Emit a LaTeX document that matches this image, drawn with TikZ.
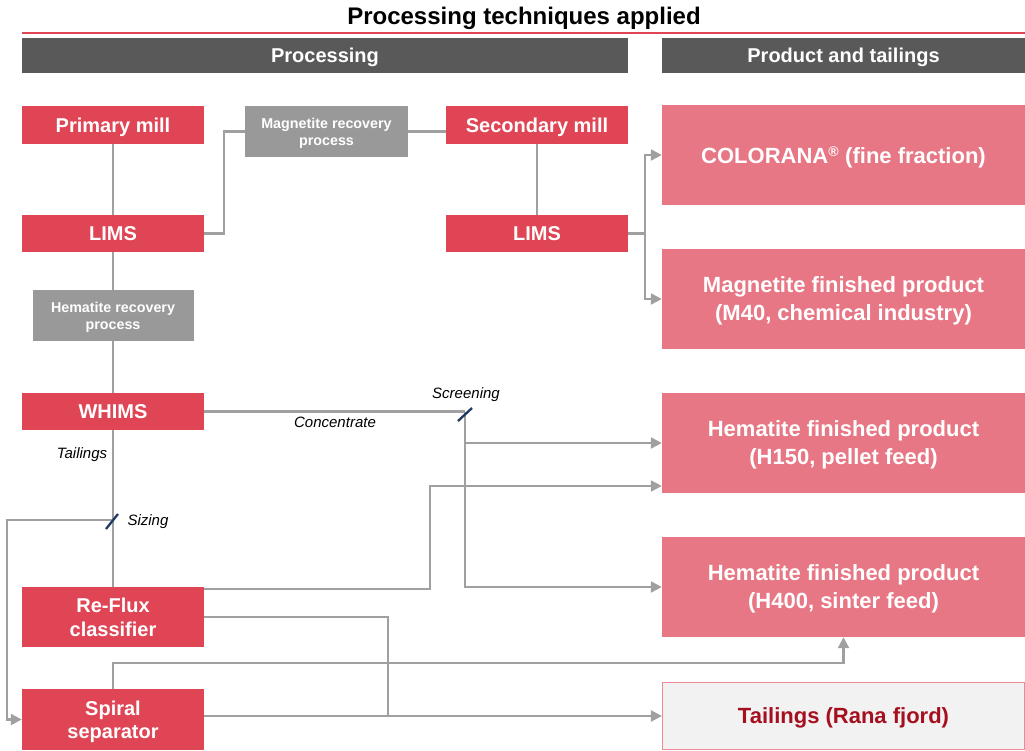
\documentclass[tikz,border=0pt]{standalone}
\usepackage{fontspec}
\setmainfont{Liberation Sans}
\usetikzlibrary{arrows.meta,calc}
\definecolor{cRed}{HTML}{E04555}
\definecolor{cPink}{HTML}{E87785}
\definecolor{cGray}{HTML}{999999}
\definecolor{cBar}{HTML}{595959}
\definecolor{cLine}{HTML}{A0A0A0}
\definecolor{cNavy}{HTML}{1F3864}
\definecolor{cTailTxt}{HTML}{A50F1F}
\definecolor{cTailFill}{HTML}{F2F2F2}
\definecolor{cTailBorder}{HTML}{EE8893}
\tikzset{
  boxbase/.style={inner sep=0pt, align=center, text=white, text depth=0pt},
  redbox/.style={boxbase, fill=cRed, minimum width=182pt, font=\bfseries\fontsize{20}{23.5}\selectfont},
  graybox/.style={boxbase, fill=cGray, font=\bfseries\fontsize{14.3}{16.8}\selectfont},
  pinkbox/.style={boxbase, fill=cPink, minimum width=363pt, minimum height=100pt, font=\bfseries\fontsize{22}{28}\selectfont},
  barbox/.style={boxbase, fill=cBar, minimum height=34.5pt, font=\bfseries\fontsize{20}{24}\selectfont},
  conn/.style={draw=cLine, line width=2.3pt},
  arr/.style={conn, -{Triangle[length=11pt,width=11pt]}},
  slashmark/.style={draw=cNavy, line width=2.3pt},
  lbl/.style={inner sep=0pt, text depth=0pt, font=\itshape\fontsize{15}{18}\selectfont, text=black}
}
\begin{document}
\begin{tikzpicture}[x=1pt,y=-1pt]
\useasboundingbox (0,0) rectangle (1025,751);

% title
\node[inner sep=0pt, text depth=0pt, font=\bfseries\fontsize{24}{28}\selectfont] (title) at (524,16) {Processing techniques applied};
\draw[cRed, line width=2.5pt] (22,33) -- (1025,33);

% header bars
\node[barbox, minimum width=606pt] (hproc) at (325,55.75) {Processing};
\node[barbox, minimum width=363pt] (hprod) at (843.5,55.75) {Product and tailings};

% processing nodes
\node[redbox, minimum height=38pt] (pm) at (113,125) {Primary mill};
\node[graybox, minimum width=163pt, minimum height=51pt] (mrp) at (326.5,131.5) {Magnetite recovery\\process};
\node[redbox, minimum height=38pt] (sm) at (537,125) {Secondary mill};
\node[redbox, minimum height=37pt] (lims1) at (113,233.5) {LIMS};
\node[redbox, minimum height=37pt] (lims2) at (537,233.5) {LIMS};
\node[graybox, minimum width=161pt, minimum height=51pt] (hrp) at (113,315.5) {Hematite recovery\\process};
\node[redbox, minimum height=37pt] (whims) at (113,411.5) {WHIMS};
\node[redbox, minimum height=60pt] (reflux) at (113,617) {Re-Flux\\classifier};
\node[redbox, minimum height=61pt] (spiral) at (113,719.5) {Spiral\\separator};

% product nodes
\node[pinkbox] (colorana) at (843.5,155) {COLORANA\textsuperscript{\fontsize{14}{14}\selectfont\textregistered} (fine fraction)};
\node[pinkbox] (magfin) at (843.5,299) {Magnetite finished product\\(M40, chemical industry)};
\node[pinkbox] (h150) at (843.5,443) {Hematite finished product\\(H150, pellet feed)};
\node[pinkbox] (h400) at (843.5,587) {Hematite finished product\\(H400, sinter feed)};
\node[boxbase, fill=cTailFill, draw=cTailBorder, line width=1.2pt, minimum width=362pt, minimum height=67pt, text=cTailTxt, font=\bfseries\fontsize{22}{28}\selectfont] (tail) at (843.5,716) {Tailings (Rana fjord)};

% connectors
\draw[conn] (pm.south) -- (lims1.north);
\draw[conn] (lims1.east) -- ++(19.5,0) |- (mrp.west);
\draw[conn] (mrp.east) -- (mrp.east -| sm.west);
\draw[conn] (sm.south) -- (lims2.north);
\draw[conn] (lims2.east) -- ++(17,0) coordinate (j1);
\draw[arr] (j1) |- (colorana.west);
\draw[arr] (j1) |- (magfin.west);
\draw[conn] (lims1.south) -- (hrp.north);
\draw[conn] (hrp.south) -- (whims.north);

% WHIMS concentrate to screening
\coordinate (scr) at (465,411.5);
\draw[conn] (whims.east) -- (scr);
\draw[arr] (scr) |- (h400.west);
\draw[arr] (scr |- h150.west) -- (h150.west);
\draw[slashmark] ($(scr)+(-7,9.5)$) -- ($(scr)+(7,-3.5)$);
\node[lbl] (lconc) at (335,422) {Concentrate};
\node[lbl] (lscr) at (466,393) {Screening};

% WHIMS tailings to Re-Flux, sizing
\coordinate (sz) at (113,520);
\draw[conn] (whims.south) -- (reflux.north);
\draw[arr] (sz) -- ++(-106,0) |- (spiral.west);
\draw[slashmark] ($(sz)+(-7,9)$) -- ($(sz)+(5,-6)$);
\node[lbl] (ltail) at (82,453) {Tailings};
\node[lbl] (lsize) at (148,520) {Sizing};

% Re-Flux outputs
\draw[arr] ($(reflux.north east)+(0,2)$) -- ++(226,0) |- ($(h150.west)+(0,43)$);
\draw[conn] (reflux.east) -- ++(184,0) coordinate (j2) -- (j2 |- tail.west);

% Spiral outputs
\draw[arr] (spiral.east |- tail.west) -- (tail.west);
\draw[arr] (spiral.north) -- ++(0,-26) -| (h400.south);
\end{tikzpicture}
\end{document}
